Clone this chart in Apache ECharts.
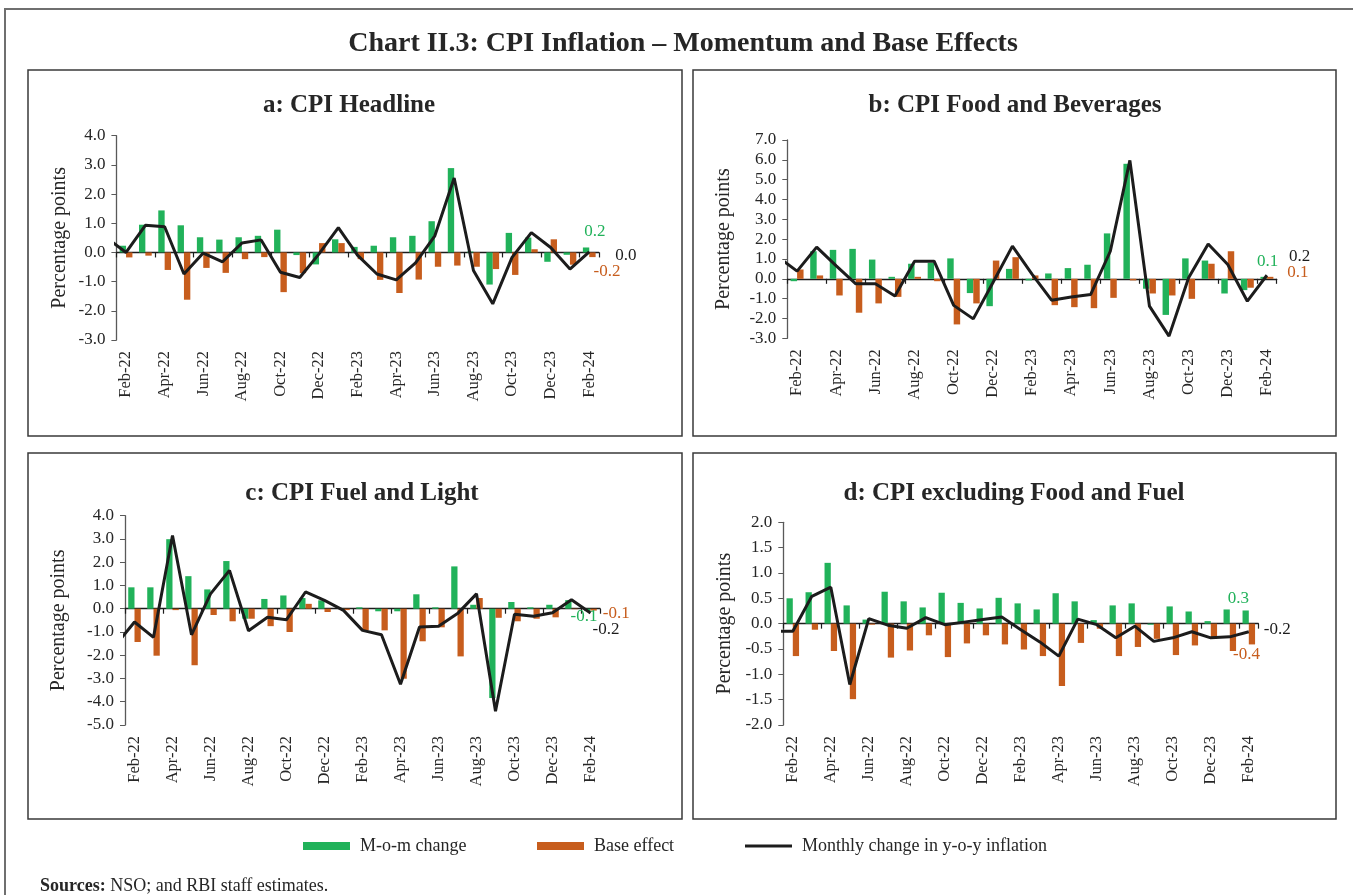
<!DOCTYPE html>
<html>
<head>
<meta charset="utf-8">
<title>Chart II.3: CPI Inflation – Momentum and Base Effects</title>
<script src="https://cdn.jsdelivr.net/npm/echarts@6/dist/echarts.min.js"></script>
<style>
    html, body { margin: 0; padding: 0; background: #fff; }
    #chart { width: 1353px; height: 895px; }
</style>
</head>
<body>
<div id="chart"></div>
<script>
// Jan-22 is only there for the line's clipped first segment at the left edge
const months = ['Jan-22', 'Feb-22', 'Mar-22', 'Apr-22', 'May-22', 'Jun-22', 'Jul-22', 'Aug-22', 'Sep-22',
    'Oct-22', 'Nov-22', 'Dec-22', 'Jan-23', 'Feb-23', 'Mar-23', 'Apr-23', 'May-23', 'Jun-23', 'Jul-23',
    'Aug-23', 'Sep-23', 'Oct-23', 'Nov-23', 'Dec-23', 'Jan-24', 'Feb-24']

// a: CPI Headline
const headlineMom = [null, 0.23, 0.95, 1.44, 0.93, 0.52, 0.44, 0.52, 0.57, 0.78, -0.09, -0.41, 0.45,
    0.19, 0.23, 0.52, 0.57, 1.07, 2.89, 0.03, -1.10, 0.67, 0.51, -0.32, -0.08, 0.17]
const headlineBase = [null, -0.17, -0.11, -0.60, -1.62, -0.53, -0.70, -0.23, -0.16, -1.36, -0.71, 0.32, 0.32,
    -0.23, -0.94, -1.39, -0.93, -0.49, -0.45, -0.49, -0.57, -0.77, 0.11, 0.45, -0.42, -0.16]
const headlineYoy = [0.5, 0.0, 0.93, 0.88, -0.74, -0.02, -0.32, 0.32, 0.43, -0.68, -0.86, -0.05, 0.85,
    -0.1, -0.74, -0.94, -0.36, 0.57, 2.55, -0.62, -1.76, -0.17, 0.68, 0.17, -0.57, 0.02]

// b: CPI Food and Beverages
const foodMom = [null, -0.12, 1.39, 1.46, 1.51, 0.97, 0.10, 0.76, 0.81, 1.03, -0.72, -1.38, 0.50,
    -0.08, 0.27, 0.54, 0.71, 2.29, 5.80, -0.50, -1.82, 1.03, 0.92, -0.74, -0.57, 0.10]
const foodBase = [null, 0.47, 0.17, -0.84, -1.71, -1.24, -0.91, 0.10, -0.12, -2.30, -1.24, 0.92, 1.09,
    0.17, -1.33, -1.43, -1.48, -0.96, -0.08, -0.74, -0.84, -1.01, 0.76, 1.39, -0.45, 0.10]
const foodYoy = [1.13, 0.39, 1.60, 0.65, -0.25, -0.25, -0.87, 0.89, 0.89, -1.34, -2.02, -0.20, 1.65,
    0.24, -1.08, -0.92, -0.79, 1.39, 5.97, -1.38, -2.89, 0.05, 1.76, 0.72, -1.13, 0.18]

// c: CPI Fuel and Light
const fuelMom = [null, 0.92, 0.92, 2.99, 1.40, 0.83, 2.05, -0.43, 0.42, 0.57, 0.46, 0.36, 0.02,
    0.06, -0.11, -0.11, 0.62, 0.06, 1.82, 0.17, -3.84, 0.29, 0.06, 0.17, 0.37, -0.10]
const fuelBase = [null, -1.43, -2.02, -0.06, -2.43, -0.27, -0.54, -0.43, -0.75, -1.00, 0.21, -0.14, -0.06,
    -0.93, -0.93, -3.01, -1.40, -0.80, -2.05, 0.46, -0.39, -0.54, -0.43, -0.37, -0.02, -0.08]
const fuelYoy = [-1.57, -0.57, -1.23, 3.15, -1.12, 0.64, 1.65, -0.95, -0.37, -0.47, 0.72, 0.36, -0.07,
    -0.93, -1.12, -3.25, -0.79, -0.75, -0.21, 0.64, -4.41, -0.24, -0.32, -0.17, 0.39, -0.18]

// d: CPI excluding Food and Fuel
const coreMom = [null, 0.50, 0.62, 1.20, 0.36, 0.08, 0.63, 0.44, 0.32, 0.61, 0.41, 0.30, 0.51,
    0.40, 0.28, 0.60, 0.44, 0.07, 0.36, 0.40, -0.02, 0.34, 0.24, 0.05, 0.28, 0.26]
const coreBase = [null, -0.64, -0.12, -0.54, -1.49, -0.02, -0.67, -0.53, -0.23, -0.66, -0.39, -0.23, -0.41,
    -0.51, -0.64, -1.23, -0.38, -0.10, -0.64, -0.46, -0.30, -0.62, -0.43, -0.30, -0.54, -0.41]
const coreYoy = [-0.15, -0.15, 0.54, 0.72, -1.20, 0.10, -0.03, -0.09, 0.12, -0.02, 0.03, 0.08, 0.13,
    -0.12, -0.36, -0.64, 0.09, -0.02, -0.28, -0.05, -0.35, -0.28, -0.16, -0.28, -0.26, -0.16]

const names = ['M-o-m change', 'Base effect', 'Monthly change in y-o-y inflation']

const font = '"Liberation Serif", "DejaVu Serif", serif'
const GREEN = '#21B25A'
const ORANGE = '#C75D1D'
const BLACK = '#1c1c1c'
const TEXT = '#262626'

const panels = [
    {
        title: 'a: CPI Headline', titleX: 349, titleY: 104,
        box: [28, 70, 654, 366],
        grid: { left: 116.4, top: 135.7, width: 482.5, height: 204.3 },
        min: -3, max: 4, interval: 1, nameGap: 47,
        mom: headlineMom, base: headlineBase, yoy: headlineYoy,
        offsets: { mom: [-10, -18], base: [-7, 17], yoy: [18, 4] }
    },
    {
        title: 'b: CPI Food and Beverages', titleX: 1015, titleY: 104,
        box: [693, 70, 643, 366],
        grid: { left: 787.3, top: 140, width: 489.4, height: 198.3 },
        min: -3, max: 7, interval: 1, nameGap: 54,
        mom: foodMom, base: foodBase, yoy: foodYoy,
        offsets: { mom: [-15, -16], base: [9, -5], yoy: [14, -19] }
    },
    {
        title: 'c: CPI Fuel and Light', titleX: 362, titleY: 492,
        box: [28, 453, 654, 366],
        grid: { left: 125, top: 515.7, width: 475, height: 209.3 },
        min: -5, max: 4, interval: 1, nameGap: 56,
        mom: fuelMom, base: fuelBase, yoy: fuelYoy,
        offsets: { mom: [-25, 7], base: [1, 4], yoy: [-6, 16.5] }
    },
    {
        title: 'd: CPI excluding Food and Fuel', titleX: 1014, titleY: 492,
        box: [693, 453, 643, 366],
        grid: { left: 783.3, top: 522.3, width: 475, height: 202.7 },
        min: -2, max: 2, interval: 0.5, nameGap: 49,
        mom: coreMom, base: coreBase, yoy: coreYoy,
        offsets: { mom: [-26, -19], base: [-27, 20], yoy: [7, -2] }
    }
]

// put a value label on the last bar only
function endLabel(values, color, offset) {
    const last = values.length - 1
    return values.map((v, i) => i !== last ? v : {
        value: v,
        label: {
            show: true,
            position: 'right',
            offset,
            color,
            fontFamily: font,
            fontSize: 17,
            formatter: p => p.value.toFixed(1)
        }
    })
}

// Feb-22, Apr-22 ... (index 0 is the hidden Jan-22)
const everyOther = index => index % 2 === 1

const option = {
    animation: false,
    backgroundColor: '#fff',
    title: [{
        text: 'Chart II.3: CPI Inflation – Momentum and Base Effects',
        left: 683, top: 30, textAlign: 'center', padding: 0,
        textStyle: { fontFamily: font, fontSize: 28, fontWeight: 'bold', color: TEXT }
    }],
    legend: [],
    grid: [],
    xAxis: [],
    yAxis: [],
    series: [],
    graphic: [{
        type: 'polyline',
        shape: { points: [[5, 895], [5, 9], [1353, 9]] },
        style: { fill: null, stroke: '#6f6f6f', lineWidth: 2 }
    }, {
        type: 'text',
        left: 40, top: 877,
        style: {
            text: '{b|Sources:} NSO; and RBI staff estimates.',
            font: '18px ' + font,
            fill: TEXT,
            rich: { b: { fontWeight: 'bold', fontFamily: font, fontSize: 18, fill: TEXT } }
        }
    }]
}

panels.forEach((p, k) => {
    option.title.push({
        text: p.title, left: p.titleX, top: p.titleY - 11, textAlign: 'center', padding: 0,
        textStyle: { fontFamily: font, fontSize: 25, fontWeight: 'bold', color: TEXT }
    })
    option.graphic.push({
        type: 'rect',
        shape: { x: p.box[0], y: p.box[1], width: p.box[2], height: p.box[3] },
        style: { fill: null, stroke: '#3a3a3a', lineWidth: 1.5 }
    })
    option.grid.push(Object.assign({ containLabel: false }, p.grid))
    // labelled axis at the bottom of the plot
    option.xAxis.push({
        type: 'category', gridIndex: k, data: months, min: 1, position: 'bottom',
        axisLine: { show: false, onZero: false },
        axisTick: { show: false },
        axisLabel: { interval: everyOther, rotate: 90, margin: 11, fontFamily: font, fontSize: 16.5, color: TEXT }
    })
    // zero line with ticks
    option.xAxis.push({
        type: 'category', gridIndex: k, data: months, min: 1, position: 'bottom',
        axisLine: { show: true, onZero: true, lineStyle: { color: BLACK, width: 1.3 } },
        axisTick: { show: true, interval: everyOther, length: 5, lineStyle: { color: BLACK, width: 1.2 } },
        axisLabel: { show: false }
    })
    option.yAxis.push({
        type: 'value', gridIndex: k, min: p.min, max: p.max, interval: p.interval,
        name: 'Percentage points', nameLocation: 'middle', nameGap: p.nameGap, nameRotate: 90,
        nameTextStyle: { fontFamily: font, fontSize: 20, color: TEXT },
        axisLine: { show: true, lineStyle: { color: '#595959', width: 1.3 } },
        axisTick: { show: true, length: 5, lineStyle: { color: '#595959' } },
        splitLine: { show: false },
        axisLabel: { margin: 11, fontFamily: font, fontSize: 17, color: TEXT, formatter: v => v.toFixed(1) }
    })
    option.series.push({
        name: names[0], type: 'bar', xAxisIndex: 2 * k, yAxisIndex: k,
        barWidth: '33%', barGap: '0%',
        itemStyle: { color: GREEN },
        data: endLabel(p.mom, GREEN, p.offsets.mom)
    }, {
        name: names[1], type: 'bar', xAxisIndex: 2 * k, yAxisIndex: k,
        barWidth: '33%', barGap: '0%',
        itemStyle: { color: ORANGE },
        data: endLabel(p.base, ORANGE, p.offsets.base)
    }, {
        name: names[2], type: 'line', xAxisIndex: 2 * k, yAxisIndex: k,
        showSymbol: false, z: 5,
        lineStyle: { color: BLACK, width: 3 },
        itemStyle: { color: BLACK },
        endLabel: {
            show: true, offset: p.offsets.yoy, color: BLACK,
            fontFamily: font, fontSize: 17,
            formatter: q => q.value.toFixed(1)
        },
        data: p.yoy
    })
})

// one legend per item so each sits where it does in the original
const legendLeft = [303, 537, 745]
const legendIcon = [8, 8, 3]
const legendColor = [GREEN, ORANGE, BLACK]
names.forEach((name, i) => {
    option.legend.push({
        data: [{ name, icon: 'rect', itemStyle: { color: legendColor[i] } }],
        left: legendLeft[i], top: 837, padding: 0,
        itemWidth: 47, itemHeight: legendIcon[i], selectedMode: false,
        textStyle: { fontFamily: font, fontSize: 18, color: TEXT, lineHeight: 18, padding: [0, 0, 0, 5] }
    })
})

const chart = echarts.init(document.getElementById('chart'), null, { renderer: 'canvas' })
chart.setOption(option)
</script>
</body>
</html>
